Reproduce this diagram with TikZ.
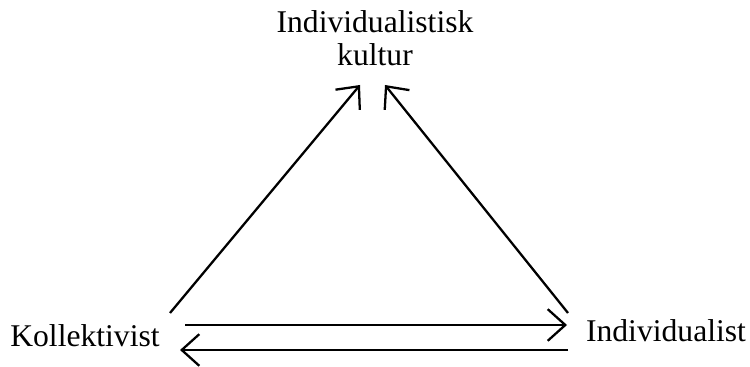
\documentclass[tikz,border=0pt]{standalone}
\usepackage{fontspec}
\setmainfont{Liberation Serif}
\usetikzlibrary{arrows.meta}

\begin{document}
\begin{tikzpicture}[x=0.02cm, y=-0.02cm,
  lbl/.style={font=\fontsize{18}{19}\selectfont, inner sep=0pt, align=center},
  pil/.style={-{Straight Barb[length=10pt, width=18pt]}, line width=1.3pt}]

% Ramme
\useasboundingbox (0,0) rectangle (750,367);

% Begreper
\node[lbl] (kultur) at (375,38) {Individualistisk\\kultur};
\node[lbl] (koll) at (85,336) {Kollektivist};
\node[lbl] (indiv) at (666,331) {Individualist};

% Endepunkter
\coordinate (kv) at (360,85);
\coordinate (kh) at (385,85);
\coordinate (ko) at (170,313);
\coordinate (io) at (568,313);
\coordinate (k1) at (185,325);
\coordinate (i1) at (567,325);
\coordinate (k2) at (180,350);
\coordinate (i2) at (568,350);

% Piler
\draw[pil] (ko) -- (kv);
\draw[pil] (io) -- (kh);
\draw[pil] (k1) -- (i1);
\draw[pil] (i2) -- (k2);

\end{tikzpicture}
\end{document}
